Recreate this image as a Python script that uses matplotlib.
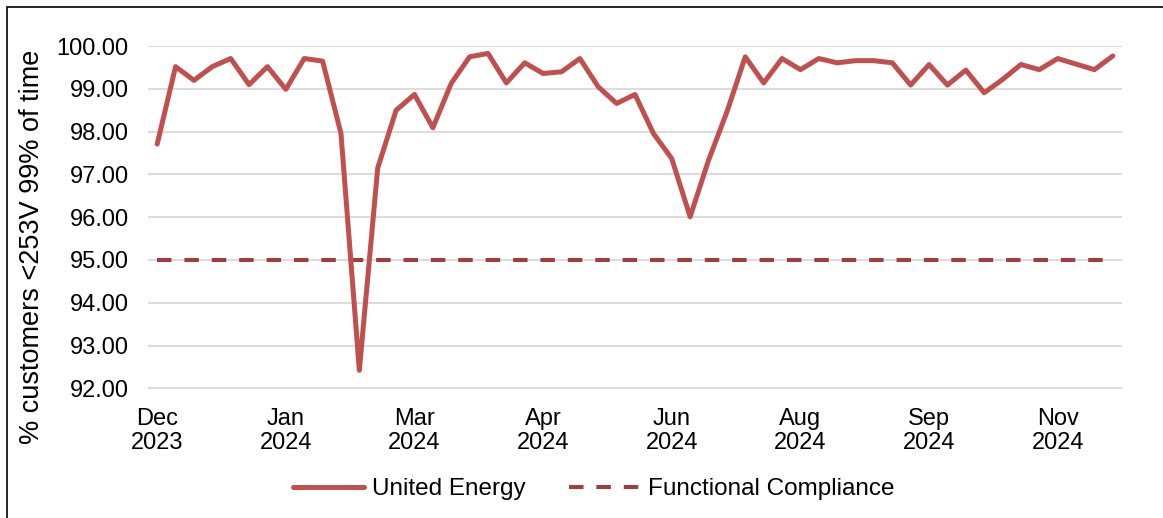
import matplotlib
matplotlib.use("Agg")
import matplotlib.pyplot as plt
from matplotlib.patches import Rectangle

plt.rcParams['font.family'] = ['Liberation Sans', 'DejaVu Sans']

# ---- data ----
united_energy = [97.71, 99.52, 99.20, 99.52, 99.71, 99.10, 99.52, 98.99, 99.71, 99.65,
                 97.96, 92.42, 97.15, 98.50, 98.87, 98.09, 99.13, 99.75, 99.83, 99.14,
                 99.61, 99.36, 99.40, 99.71, 99.05, 98.66, 98.87, 97.96, 97.37, 96.01,
                 97.33, 98.46, 99.75, 99.14, 99.71, 99.45, 99.71, 99.61, 99.66, 99.66,
                 99.61, 99.09, 99.57, 99.09, 99.44, 98.91, 99.22, 99.57, 99.45, 99.71,
                 99.58, 99.45, 99.77]
compliance_level = 95.0
tick_positions = [0, 7, 14, 21, 28, 35, 42, 49]
tick_labels = ["Dec\n2023", "Jan\n2024", "Mar\n2024", "Apr\n2024", "Jun\n2024",
               "Aug\n2024", "Sep\n2024", "Nov\n2024"]
y_ticks = [92, 93, 94, 95, 96, 97, 98, 99, 100]

W, H = 1163, 518
fig = plt.figure(figsize=(W / 100, H / 100), dpi=100)
ax = fig.add_axes([148 / W, 1 - 388.7 / H, (1122 - 148) / W, (388.7 - 45.7) / H])

x = list(range(len(united_energy)))
ax.plot(x, united_energy, color='#c0504d', lw=3.6, solid_joinstyle='round',
        solid_capstyle='round', label='United Energy', zorder=3)
ax.plot(x, [compliance_level] * len(x), color='#a33d3b', lw=2.9,
        dashes=(3.6, 3.2), label='Functional Compliance', zorder=2)

ax.set_xlim(-0.5, len(x) - 0.5)
ax.set_ylim(91.99, 100.01)
ax.set_yticks(y_ticks)
ax.set_yticklabels([f"{v:.2f}" for v in y_ticks])
ax.set_xticks(tick_positions)
ax.set_xticklabels(tick_labels, linespacing=1.12)
ax.tick_params(axis='both', length=0, labelsize=17, colors='black')
ax.tick_params(axis='y', pad=14)
ax.tick_params(axis='x', pad=14)
ax.yaxis.grid(True, color='#d9d9d9', lw=1.3)
ax.set_axisbelow(True)
for s in ax.spines.values():
    s.set_visible(False)

fig.text(32 / W, 1 - 246.5 / H, "% customers <253V 99% of time", rotation=90,
         ha='center', va='center', fontsize=19.5)

fig.legend(loc='center', bbox_to_anchor=(593.5 / W, 1 - 489 / H), ncol=2,
           frameon=False, fontsize=17.5, handlelength=2.95, handletextpad=0.3,
           columnspacing=1.8)

fig.add_artist(Rectangle((7 / W, -0.1), 1.5, 1 - 7 / H + 0.1, transform=fig.transFigure,
                         fill=False, edgecolor='black', lw=1.2))

fig.savefig("out.png", dpi=100)
